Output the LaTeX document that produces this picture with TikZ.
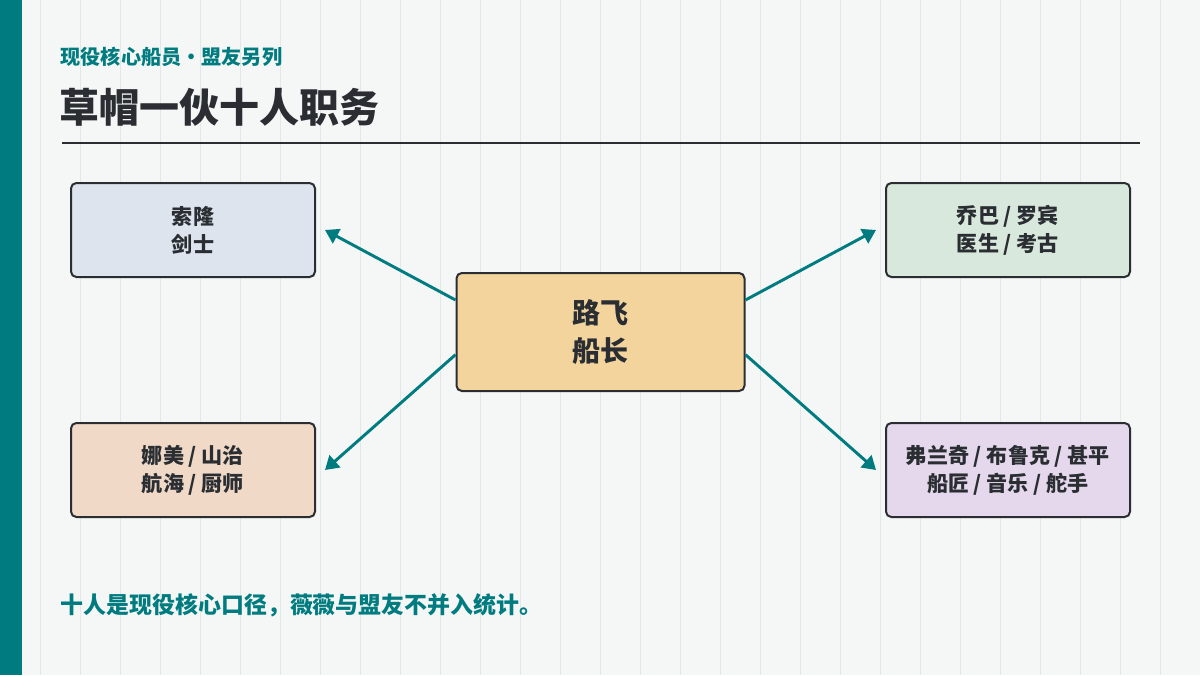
\documentclass[tikz,border=0pt]{standalone}
\usepackage{fontspec}
\setmainfont{Noto Sans CJK SC}
\usetikzlibrary{positioning,arrows.meta}
\definecolor{crewteal}{HTML}{007C80}
\definecolor{ink}{HTML}{2A2E33}
\tikzset{
	every picture/.style={/utils/exec={\bfseries}},
	role/.style={draw=ink, line width=1.5pt, rounded corners=4pt, minimum width=183pt, minimum height=70.5pt, align=center, font=\fontsize{15.8}{21}\selectfont\bfseries, text=ink},
	link/.style={draw=crewteal, line width=2.2pt, -{Triangle[length=10pt,width=12pt]}},
}
\begin{document}
\begin{tikzpicture}[x=0.75pt, y=-0.75pt]
			\useasboundingbox (0,0) rectangle (1200,675);
			\fill[color={rgb,255:red,244;green,247;blue,246}] (0,0) rectangle (1200,675);
			\foreach \gx in {40,80,...,1160} \draw[color={rgb,255:red,227;green,232;blue,230}, line width=0.75pt] (\gx,0) -- (\gx,675);
			\fill[crewteal] (0,0) rectangle (22,675);
			
			\node[anchor=west, text=crewteal, font=\fontsize{15.1}{18}\selectfont\bfseries] (sub) at (56,57) {现役核心船员・盟友另列};
			\node[anchor=west, text=ink, font=\fontsize{30}{36}\selectfont\bfseries] (title) at (55,107) {草帽一伙十人职务};
			\draw[ink, line width=1.2pt] (62,143) -- (1140,143);
			
			\node[role, fill={rgb,255:red,221;green,228;blue,238}] (zoro) at (193,230) {索隆\\剑士};
			\node[role, fill={rgb,255:red,217;green,232;blue,220}] (chopper) at (1008,230) {乔巴 / 罗宾\\医生 / 考古};
			\node[role, fill={rgb,255:red,240;green,217;blue,198}] (nami) at (193,470) {娜美 / 山治\\航海 / 厨师};
			\node[role, fill={rgb,255:red,229;green,216;blue,236}] (franky) at (1008,470) {弗兰奇 / 布鲁克 / 甚平\\船匠 / 音乐 / 舵手};
			\node[role, fill={rgb,255:red,242;green,212;blue,156}, minimum width=216pt, minimum height=88.5pt, font=\fontsize{21}{28}\selectfont\bfseries] (luffy) at (600.5,332) {路飞\\船长};
			
			\coordinate (zoroend) at (325,230);
			\coordinate (chopperend) at (876,230);
			\coordinate (namiend) at (325,470);
			\coordinate (frankyend) at (876,470);
			\draw[link] ([yshift=24pt]luffy.west) -- (zoroend);
			\draw[link] ([yshift=24pt]luffy.east) -- (chopperend);
			\draw[link] ([yshift=-17pt]luffy.west) -- (namiend);
			\draw[link] ([yshift=-17pt]luffy.east) -- (frankyend);
			
			\node[anchor=west, text=crewteal, font=\fontsize{17.2}{20}\selectfont\bfseries] (note) at (56,605) {十人是现役核心口径，薇薇与盟友不并入统计。};
		\end{tikzpicture}
\end{document}
